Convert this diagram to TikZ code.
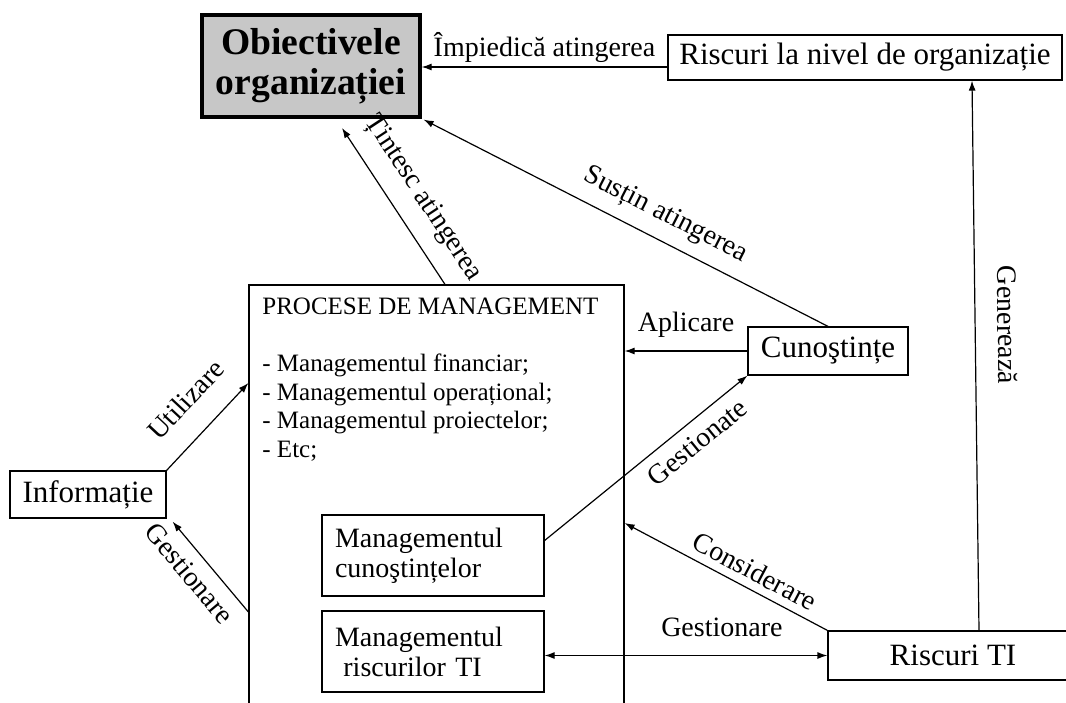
\documentclass[tikz,border=0pt]{standalone}
\usepackage{fontspec}
\setmainfont{Liberation Serif}
\usetikzlibrary{positioning}
\usetikzlibrary{calc}
\usetikzlibrary{arrows.meta}

\tikzset{
    caseta/.style={draw, line width=0.6pt, inner sep=2pt, font=\fontsize{15.5}{17}\selectfont},
    casetamgmt/.style={caseta, font=\fontsize{14}{15}\selectfont, align=left, text width=98pt, inner xsep=6.5pt, minimum height=40.5pt},
    eticheta/.style={font=\fontsize{14}{16}\selectfont, inner sep=2pt},
    sageata/.style={line width=0.6pt, -{Latex[length=5pt,width=3.5pt]}},
    sageatadubla/.style={line width=0.6pt, {Latex[length=5pt,width=3.5pt]}-{Latex[length=5pt,width=3.5pt]}},
}

\begin{document}
\begin{tikzpicture}[x=0.5pt, y=-0.5pt]
        \useasboundingbox (0,0) rectangle (1066,702);

        % Casete
        \node[caseta, line width=1.6pt, fill=black!22, align=center, minimum width=109pt, minimum height=51pt,
              font=\bfseries\fontsize{18.8}{20}\selectfont] (obiective) at (311,66) {Obiectivele\\organizației};
        \node[caseta, minimum width=197pt, minimum height=22.5pt] (riscorg) at (865,57.5) {Riscuri la nivel de organizație};
        \node[caseta, minimum width=187.5pt, minimum height=222.5pt] (procese) at (436.5,507.5) {};
        \node[anchor=north west, align=left, inner sep=0pt, font=\fontsize{12.5}{14.25}\selectfont] (procesetext) at (262,298)
            {PROCESE DE MANAGEMENT\\[14.25pt]- Managementul financiar;\\- Managementul operațional;\\- Managementul proiectelor;\\- Etc;};
        \node[caseta, minimum width=80pt, minimum height=24pt] (cunostinte) at (828,351) {Cunoştințe};
        \node[caseta, minimum width=78pt, minimum height=23.5pt] (informatie) at (88,494.5) {Informație};
        \node[casetamgmt] (mcunostinte) at (433,555.5) {Managementul\\cunoştințelor};
        \node[casetamgmt] (mriscuri) at (433,651.5) {Managementul\\\hspace*{0.3em}riscurilor TI};
        \node[caseta, minimum width=125pt, minimum height=24.5pt] (riscti) at (953,655.5) {Riscuri TI};

        % Legaturi
        \coordinate (tinta) at (342,128);
        \draw[sageata] ([yshift=-4.75pt]riscorg.west) -- ([yshift=-4.75pt]riscorg.west -| obiective.east)
            node[eticheta, midway, above=0pt] {Împiedică atingerea};
        \draw[sageata] ([xshift=4.25pt]procese.north) -- (tinta)
            node[eticheta, sloped, pos=0.45, above=6pt] {Țintesc atingerea};
        \draw[sageata] (cunostinte.north) -- ([shift={(1pt,-0.5pt)}]obiective.south east)
            node[eticheta, sloped, pos=0.43, above=4pt] {Susțin atingerea};
        \draw[sageata] (cunostinte.west) -- (cunostinte.west -| procese.east)
            node[eticheta, midway, above=4.5pt] {Aplicare};
        \draw[sageata] (informatie.north east) -- ([yshift=62.25pt]procese.west)
            node[eticheta, sloped, pos=0.54, above=10pt] {Utilizare};
        \draw[sageata] ([yshift=-52.25pt]procese.west) -- ([shift={(3pt,-1.5pt)}]informatie.south east)
            node[eticheta, sloped, pos=0.57, below=3pt] {Gestionare};
        \draw[sageata] ([yshift=7.5pt]mcunostinte.east) -- (cunostinte.south west)
            node[eticheta, sloped, pos=0.69, below=3pt] {Gestionate};
        \draw[sageata] (riscti.north west) -- ([yshift=-7.75pt]procese.east)
            node[eticheta, sloped, pos=0.4, above=2pt] {Considerare};
        \draw[sageatadubla] (mriscuri.east |- riscti.west) -- (riscti.west)
            node[eticheta, pos=0.627, above=7pt] {Gestionare};
        \draw[sageata] ([xshift=13pt]riscti.north) -- ([xshift=53.5pt]riscorg.south)
            node[eticheta, sloped, pos=0.555, above=9pt] {Generează};
\end{tikzpicture}
\end{document}
